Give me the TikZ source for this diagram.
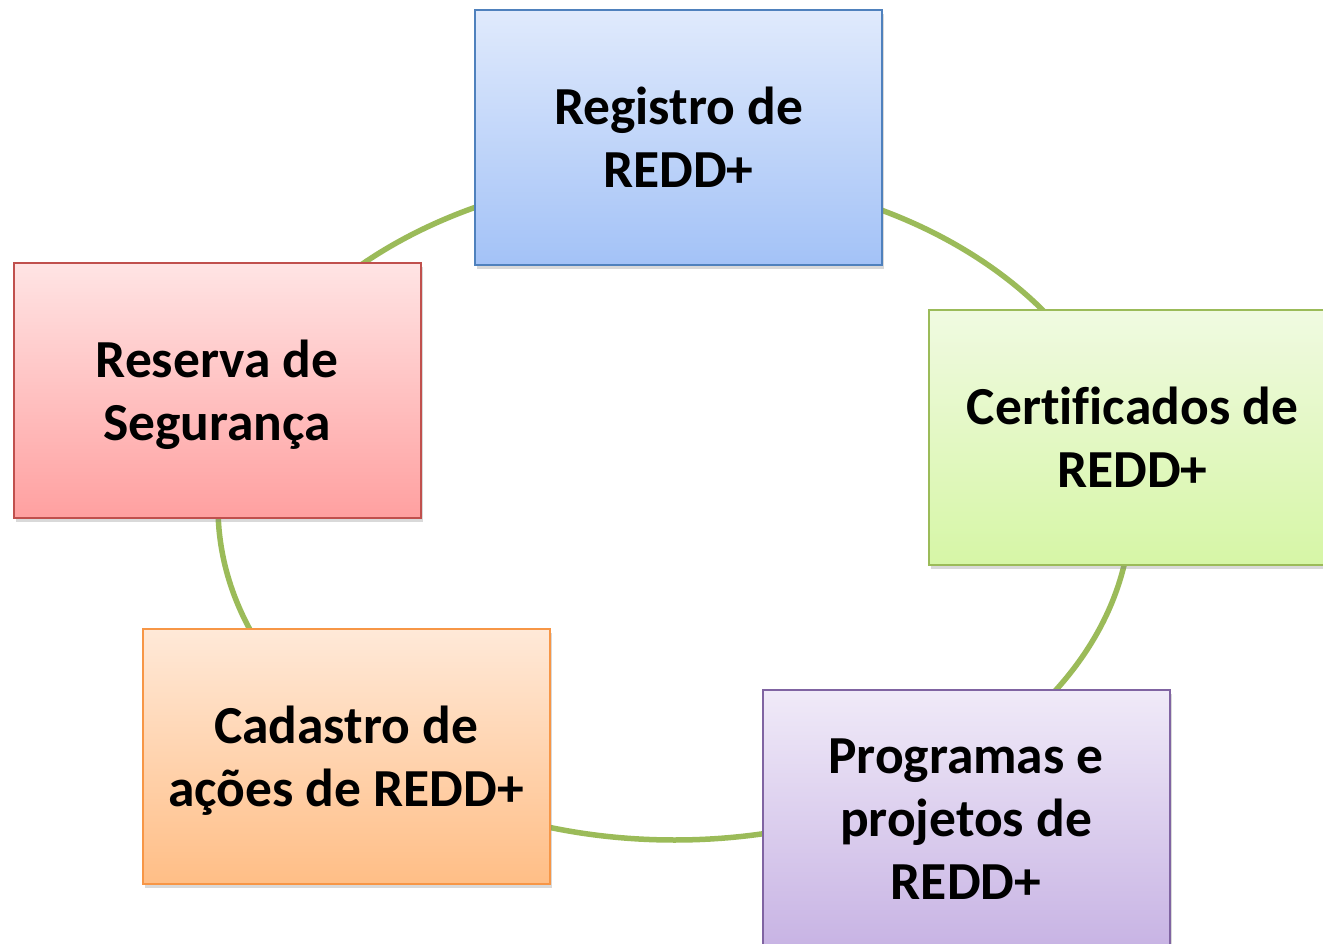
\documentclass[tikz,border=0pt]{standalone}
\usepackage{fontspec}
\setmainfont{Carlito}[Ligatures=CommonOff]
\usetikzlibrary{shadows}
\definecolor{cycgreen}{RGB}{155,187,89}
\definecolor{bluedraw}{RGB}{79,129,189}
\definecolor{bluetop}{RGB}{224,234,252}
\definecolor{bluebot}{RGB}{163,194,247}
\definecolor{greendraw}{RGB}{155,187,89}
\definecolor{greentop}{RGB}{240,250,225}
\definecolor{greenbot}{RGB}{214,246,166}
\definecolor{purpledraw}{RGB}{128,100,162}
\definecolor{purpletop}{RGB}{240,234,248}
\definecolor{purplebot}{RGB}{200,180,228}
\definecolor{orangedraw}{RGB}{247,150,70}
\definecolor{orangetop}{RGB}{255,233,216}
\definecolor{orangebot}{RGB}{255,190,134}
\definecolor{reddraw}{RGB}{192,80,77}
\definecolor{redtop}{RGB}{255,228,228}
\definecolor{redbot}{RGB}{255,160,160}
\begin{document}
\begin{tikzpicture}[x=1pt,y=-1pt,
  cyc/.style={draw=cycgreen, line width=5.5pt},
  box/.style={rectangle, line width=2pt, minimum width=407pt, minimum height=255pt,
    inner sep=0pt, align=center, text=black, text depth=0pt,
    font=\bfseries\fontsize{53.5}{63}\selectfont,
    drop shadow={opacity=0.3, shadow xshift=2pt, shadow yshift=-4pt}},
  bluebox/.style={box, draw=bluedraw, top color=bluetop, bottom color=bluebot},
  greenbox/.style={box, draw=greendraw, top color=greentop, bottom color=greenbot},
  purplebox/.style={box, draw=purpledraw, top color=purpletop, bottom color=purplebot},
  orangebox/.style={box, draw=orangedraw, top color=orangetop, bottom color=orangebot},
  redbox/.style={box, draw=reddraw, top color=redtop, bottom color=redbot}]
\useasboundingbox (0,0) rectangle (1323,944);
\coordinate (c) at (674.5,507);
\draw[cyc] (c) ellipse [x radius=456.5pt, y radius=333pt];
\node[bluebox] (reg) at (678.5,137.5) {Registro de\\REDD+};
\node[greenbox] (cert) at (1132.5,437.5) {Certif\kern0pt icados de\\REDD+};
\node[purplebox] (prog) at (966,817.5) {\vphantom{d}Programas e\\projetos de\\REDD+};
\node[orangebox] (cad) at (346,756.5) {Cadastro de\\ações de REDD+};
\node[redbox] (res) at (217,390.5) {Reserva de\\Segurança};
\end{tikzpicture}
\end{document}
